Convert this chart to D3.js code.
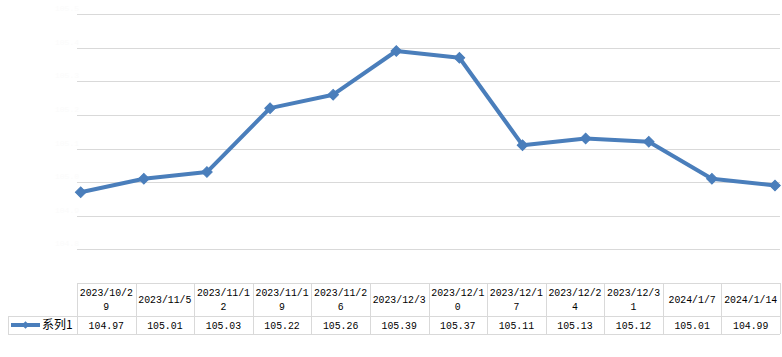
<!DOCTYPE html>
<html lang="zh">
<head>
  <meta charset="UTF-8">
  <title>系列1</title>
  <script src="https://cdn.jsdelivr.net/npm/d3@7"></script>
  <style>
    html, body { margin: 0; padding: 0; background: #fff; }
    svg { display: block; }
  </style>
</head>
<body>
<svg id="chart" width="782" height="357"></svg>
<script>
  // data
  const dates = ["2023/10/29", "2023/11/5", "2023/11/12", "2023/11/19", "2023/11/26", "2023/12/3",
                 "2023/12/10", "2023/12/17", "2023/12/24", "2023/12/31", "2024/1/7", "2024/1/14"];
  const values = [104.97, 105.01, 105.03, 105.22, 105.26, 105.39, 105.37, 105.11, 105.13, 105.12, 105.01, 104.99];
  const yTicks = [104.7, 104.8, 104.9, 105.0, 105.1, 105.2, 105.3, 105.4, 105.5];
  const seriesName = "系列1";

  const blue = "#4a7ebb";
  const grid = "#d9d9d9";
  const font = "'Liberation Mono', 'DejaVu Sans Mono', monospace";
  const charW = 5.9; // width of one half-width char in the original table font

  const svg = d3.select("#chart");

  // plot area
  const plot = { left: 77, right: 780, top: 14, bottom: 283 };

  const y = d3.scaleLinear()
    .domain([104.7, 105.5])
    .range([plot.bottom, plot.top]);

  const x = d3.scalePoint()
    .domain(dates)
    .range([80.7, 775]);

  // table columns
  const col = d3.scaleBand()
    .domain(dates)
    .range([plot.left, plot.right]);

  // gridlines
  svg.append("g")
    .selectAll("line")
    .data(yTicks.slice(1))
    .join("line")
    .attr("x1", plot.left)
    .attr("x2", plot.right)
    .attr("y1", d => Math.round(y(d)) + 0.5)
    .attr("y2", d => Math.round(y(d)) + 0.5)
    .attr("stroke", grid)
    .attr("stroke-width", 1);

  // axis labels are nearly invisible in the original
  svg.append("g")
    .selectAll("text")
    .data(yTicks.slice(1))
    .join("text")
    .attr("x", plot.left + 2)
    .attr("y", d => y(d) - 3)
    .attr("text-anchor", "end")
    .attr("font-family", font)
    .attr("font-size", 8)
    .attr("fill", "#fbfbfb")
    .text(d => d.toFixed(1));

  // line + markers
  const line = d3.line()
    .x((d, i) => x(dates[i]))
    .y(d => y(d));

  svg.append("path")
    .datum(values)
    .attr("d", line)
    .attr("fill", "none")
    .attr("stroke", blue)
    .attr("stroke-width", 4)
    .attr("stroke-linejoin", "round");

  // square turned 45deg = Excel's diamond marker
  const marker = d3.symbol().type(d3.symbolSquare).size(56);

  svg.append("g")
    .selectAll("path")
    .data(values)
    .join("path")
    .attr("d", marker)
    .attr("transform", (d, i) => "translate(" + x(dates[i]) + "," + y(d) + ") rotate(45)")
    .attr("fill", blue)
    .attr("stroke", blue)
    .attr("stroke-width", 1);

  // data table
  const rowTop = 283, rowMid = 316, rowBot = 334, legendLeft = 8;
  const table = svg.append("g").attr("stroke", grid).attr("stroke-width", 1).attr("fill", "none");

  table.append("line").attr("x1", plot.left).attr("x2", plot.right).attr("y1", rowTop + 0.5).attr("y2", rowTop + 0.5);
  table.append("line").attr("x1", legendLeft).attr("x2", plot.right).attr("y1", rowMid + 0.5).attr("y2", rowMid + 0.5);
  table.append("line").attr("x1", legendLeft).attr("x2", plot.right).attr("y1", rowBot + 0.5).attr("y2", rowBot + 0.5);
  table.append("line").attr("x1", legendLeft + 0.5).attr("x2", legendLeft + 0.5).attr("y1", rowMid).attr("y2", rowBot);

  const edges = dates.map(d => col(d)).concat([plot.right]);
  table.selectAll(".v")
    .data(edges)
    .join("line")
    .attr("x1", d => Math.round(d) + 0.5)
    .attr("x2", d => Math.round(d) + 0.5)
    .attr("y1", rowTop)
    .attr("y2", rowBot);

  // header labels, wrapped at 9 characters like the original
  function wrap(s, n) {
    const out = [];
    for (let i = 0; i < s.length; i += n) out.push(s.slice(i, i + n));
    return out;
  }

  const headers = svg.append("g")
    .attr("font-family", font)
    .attr("font-size", 10)
    .attr("fill", "#000")
    .attr("text-anchor", "middle");

  dates.forEach(d => {
    const lines = wrap(d, 9);
    const cx = col(d) + col.bandwidth() / 2;
    const cy = (rowTop + rowMid) / 2;
    const lh = 14;
    lines.forEach((t, i) => {
      headers.append("text")
        .attr("x", cx)
        .attr("y", cy + (i - (lines.length - 1) / 2) * lh)
        .attr("dy", "0.35em")
        .attr("textLength", t.length * charW)
        .attr("lengthAdjust", "spacingAndGlyphs")
        .text(t);
    });
  });

  // values row
  svg.append("g")
    .attr("font-family", font)
    .attr("font-size", 10.5)
    .attr("fill", "#000")
    .attr("text-anchor", "middle")
    .selectAll("text")
    .data(values)
    .join("text")
    .attr("x", (d, i) => col(dates[i]) + col.bandwidth() / 2)
    .attr("y", (rowMid + rowBot) / 2)
    .attr("dy", "0.35em")
    .attr("textLength", 6 * charW)
    .attr("lengthAdjust", "spacingAndGlyphs")
    .text(d => d.toFixed(2));

  // legend key inside the table
  const ly = (rowMid + rowBot) / 2;
  svg.append("line")
    .attr("x1", 11).attr("x2", 40)
    .attr("y1", ly).attr("y2", ly)
    .attr("stroke", blue)
    .attr("stroke-width", 4);
  svg.append("path")
    .attr("d", d3.symbol().type(d3.symbolSquare).size(30))
    .attr("transform", "translate(25.5," + ly + ") rotate(45)")
    .attr("fill", blue);
  svg.append("text")
    .attr("x", 42)
    .attr("y", ly)
    .attr("dy", "0.36em")
    .attr("font-family", "'Noto Sans CJK SC', sans-serif")
    .attr("font-size", 12)
    .attr("fill", "#000")
    .text(seriesName);
</script>
</body>
</html>
